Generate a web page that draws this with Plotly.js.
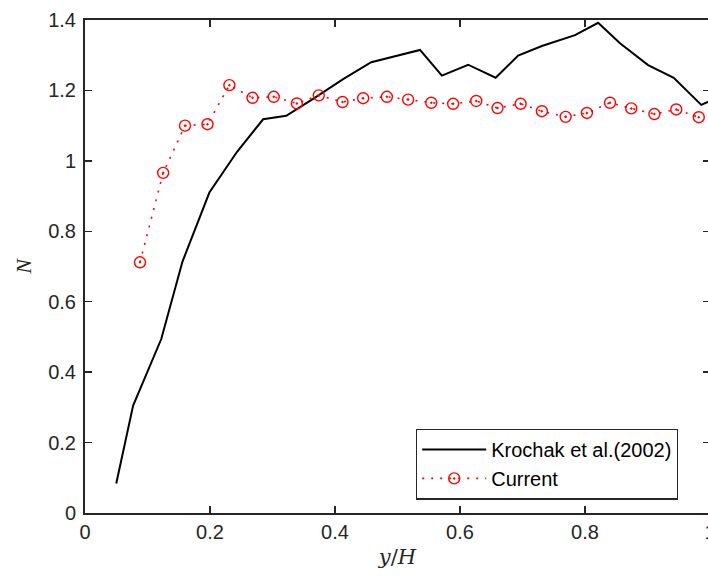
<!DOCTYPE html>
<html>
<head>
<meta charset="utf-8">
<script src="https://cdn.plot.ly/plotly-3.0.1.min.js"></script>
<style>
html, body { margin: 0; padding: 0; overflow: hidden; background: #fff; }
#chart { width: 712px; height: 576px; }
</style>
</head>
<body>
<div id="chart"></div>
<script>
// Krochak et al. (2002) reference data
const krochakX = [0.050, 0.077, 0.122, 0.156, 0.199, 0.243, 0.285, 0.322, 0.365, 0.413, 0.458, 0.501, 0.536, 0.571, 0.613, 0.657, 0.693, 0.731, 0.784, 0.821, 0.856, 0.901, 0.942, 0.986, 1.000];
const krochakY = [0.084, 0.305, 0.494, 0.714, 0.910, 1.025, 1.118, 1.128, 1.176, 1.232, 1.280, 1.300, 1.315, 1.242, 1.273, 1.236, 1.299, 1.326, 1.357, 1.392, 1.334, 1.272, 1.236, 1.159, 1.170];

// Current results
const currentX = [0.088, 0.125, 0.160, 0.196, 0.231, 0.268, 0.302, 0.339, 0.374, 0.412, 0.445, 0.483, 0.517, 0.554, 0.589, 0.626, 0.660, 0.697, 0.731, 0.769, 0.803, 0.840, 0.874, 0.911, 0.946, 0.982];
const currentY = [0.712, 0.966, 1.100, 1.104, 1.215, 1.179, 1.182, 1.163, 1.186, 1.167, 1.178, 1.182, 1.174, 1.165, 1.162, 1.170, 1.150, 1.162, 1.141, 1.125, 1.136, 1.165, 1.149, 1.133, 1.146, 1.124];

const xTicks = [0, 0.2, 0.4, 0.6, 0.8, 1];
const xTickText = ['0', '0.2', '0.4', '0.6', '0.8', '1'];
const yTicks = [0, 0.2, 0.4, 0.6, 0.8, 1, 1.2, 1.4];
const yTickText = ['0', '0.2', '0.4', '0.6', '0.8', '1', '1.2', '1.4'];

const axisColor = '#262626';
const tickFont = { family: 'Liberation Sans, Arial, sans-serif', size: 20, color: axisColor };

const traces = [
  {
    x: krochakX, y: krochakY,
    mode: 'lines',
    name: 'Krochak et al.(2002)',
    line: { color: '#000000', width: 2 }
  },
  {
    x: currentX, y: currentY,
    mode: 'lines+markers',
    name: 'Current',
    line: { color: '#FF0000', width: 1.6, dash: '2px,7px' },
    marker: { symbol: 'circle-open-dot', size: 11, color: '#FF0000', line: { color: '#FF0000', width: 1.4 } }
  }
];

const layout = {
  width: 712, height: 576,
  margin: { l: 85, r: 2, t: 20, b: 62.5 },
  paper_bgcolor: '#ffffff',
  plot_bgcolor: '#ffffff',
  showlegend: true,
  xaxis: {
    range: [0, 1],
    tickvals: xTicks, ticktext: xTickText,
    ticks: 'inside', ticklen: 7, tickwidth: 1.5, tickcolor: axisColor,
    showline: true, linecolor: axisColor, linewidth: 2, mirror: 'ticks',
    showgrid: false, zeroline: false,
    tickfont: tickFont, ticklabeloverflow: 'allow',
    title: { text: '<i>y</i>/<i>H</i>', font: { family: 'DejaVu Serif, Liberation Serif, serif', size: 21, color: axisColor }, standoff: 7 }
  },
  yaxis: {
    range: [0, 1.4],
    tickvals: yTicks, ticktext: yTickText,
    ticks: 'inside', ticklen: 7, tickwidth: 1.5, tickcolor: axisColor,
    showline: true, linecolor: axisColor, linewidth: 2, mirror: 'ticks',
    showgrid: false, zeroline: false,
    tickfont: tickFont, ticklabelstandoff: 3,
    title: { text: '<i>N</i>', font: { family: 'Liberation Serif, DejaVu Serif, serif', size: 22, color: axisColor }, standoff: 10 }
  },
  legend: {
    x: 0.5296, y: 0.171, xanchor: 'left', yanchor: 'top',
    bgcolor: '#ffffff', bordercolor: axisColor, borderwidth: 1.2,
    font: { family: 'Liberation Sans, Arial, sans-serif', size: 20, color: '#000000' },
    itemwidth: 64,
    tracegroupgap: 0
  }
};

Plotly.newPlot('chart', traces, layout, { displayModeBar: false, staticPlot: true });
</script>
</body>
</html>
